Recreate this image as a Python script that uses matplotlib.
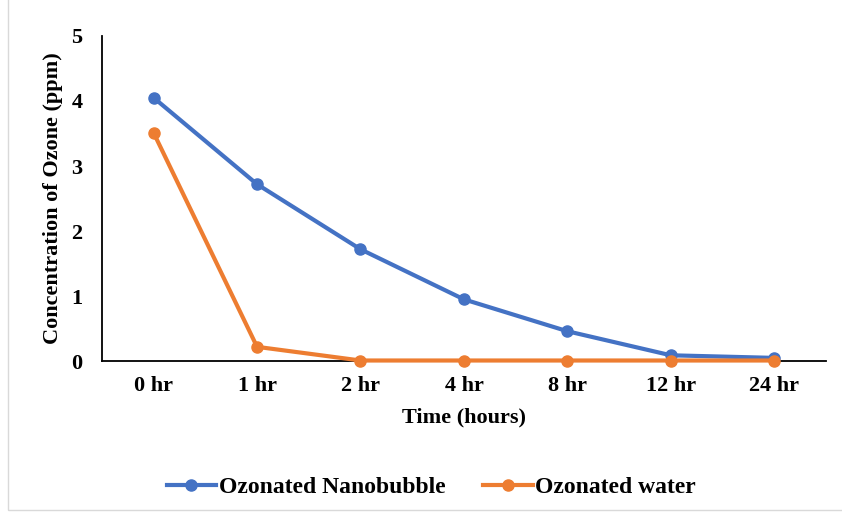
import matplotlib.pyplot as plt
from matplotlib.patches import Rectangle

times = ['0 hr', '1 hr', '2 hr', '4 hr', '8 hr', '12 hr', '24 hr']
nanobubble = [4.05, 2.72, 1.72, 0.95, 0.46, 0.09, 0.05]
water = [3.51, 0.22, 0.01, 0.01, 0.01, 0.01, 0.01]

plt.rcParams['font.family'] = ['Liberation Serif', 'DejaVu Serif']
plt.rcParams['font.weight'] = 'bold'

fig = plt.figure(figsize=(8.42, 5.13), dpi=100)
ax = fig.add_axes([0.121, 0.296, 0.860, 0.634])

x = range(len(times))
ax.plot(x, nanobubble, color='#4472C4', lw=3, marker='o', ms=8,
        label='Ozonated Nanobubble', clip_on=False, zorder=3)
ax.plot(x, water, color='#ED7D31', lw=3, marker='o', ms=8,
        label='Ozonated water', clip_on=False, zorder=4)

ax.set_xlim(-0.5, len(times) - 0.5)
ax.set_ylim(0, 5)
ax.set_xticks(list(x))
ax.set_xticklabels(times, fontsize=16, fontweight='bold')
ax.set_yticks(range(6))
ax.set_yticklabels([str(i) for i in range(6)], fontsize=16, fontweight='bold')
ax.tick_params(length=0, pad=11)
ax.tick_params(axis='y', pad=14)
for s in ['top', 'right']:
    ax.spines[s].set_visible(False)
for s in ['left', 'bottom']:
    ax.spines[s].set_linewidth(1.3)
    ax.spines[s].set_color('black')

ax.set_xlabel('Time (hours)', fontsize=16, fontweight='bold', labelpad=8)
ax.set_ylabel('Concentration of Ozone (ppm)', fontsize=16, fontweight='bold', labelpad=6)

fig.legend(loc='center', bbox_to_anchor=(0.512, 0.05), ncol=2, frameon=False,
           prop={'size': 17, 'weight': 'bold'}, handlelength=2.1, columnspacing=1.6, handletextpad=0.1)

fig.patches.append(Rectangle((0.01, 0.005), 1.2, 1.2, transform=fig.transFigure,
                             fill=False, edgecolor='#d9d9d9', lw=1))

fig.savefig('out.png', dpi=100)
